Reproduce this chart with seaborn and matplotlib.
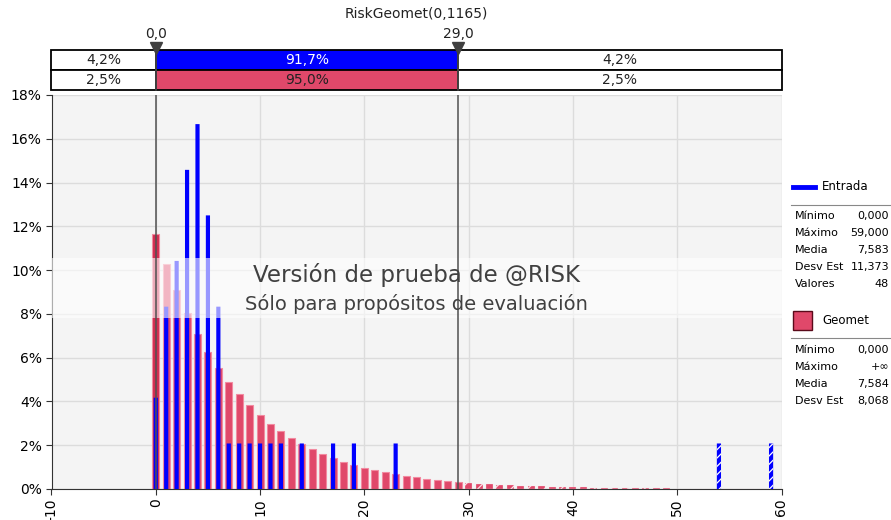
import matplotlib
matplotlib.use("Agg")
import matplotlib.pyplot as plt
from matplotlib.patches import Rectangle
from matplotlib.lines import Line2D
import seaborn as sns

# -----------------------------
# data
# -----------------------------
# Entrada: 48 samples, % of samples at each integer value
entrada_x = [0, 1, 2, 3, 4, 5, 6, 7, 8, 9, 10, 11, 12, 14, 17, 19, 23, 54, 59]
entrada_pct = [4.17, 8.33, 10.42, 14.58, 16.67, 12.50, 8.33, 2.08, 2.08, 2.08,
               2.08, 2.08, 2.08, 2.08, 2.08, 2.08, 2.08, 2.08, 2.08]

# Geomet: theoretical probabilities (%) for k = 0..60
geomet_x = list(range(0, 61))
geomet_pct = [11.65, 10.29, 9.09, 8.03, 7.10, 6.27, 5.54, 4.90, 4.33, 3.82,
              3.38, 2.98, 2.64, 2.33, 2.06, 1.82, 1.61, 1.42, 1.25, 1.11,
              0.98, 0.86, 0.76, 0.68, 0.60, 0.53, 0.47, 0.41, 0.36, 0.32,
              0.28, 0.25, 0.22, 0.20, 0.17, 0.15, 0.14, 0.12, 0.11, 0.09,
              0.08, 0.07, 0.06, 0.06, 0.05, 0.04, 0.04, 0.03, 0.03, 0.03,
              0.02, 0.02, 0.02, 0.02, 0.01, 0.01, 0.01, 0.01, 0.01, 0.01,
              0.01]

marker_vals = [0.0, 29.0]
marker_labels = ["0,0", "29,0"]
entrada_band = ["4,2%", "91,7%", "4,2%"]
geomet_band = ["2,5%", "95,0%", "2,5%"]

entrada_stats = [("Mínimo", "0,000"), ("Máximo", "59,000"), ("Media", "7,583"),
                 ("Desv Est", "11,373"), ("Valores", "48")]
geomet_stats = [("Mínimo", "0,000"), ("Máximo", "+∞"), ("Media", "7,584"),
                ("Desv Est", "8,068")]

title = "RiskGeomet(0,1165)"

BLUE = "#0000ff"
RED = "#e0486a"
W, H = 891, 520

plt.rcParams["font.family"] = ["DejaVu Sans"]
plt.rcParams["hatch.linewidth"] = 0.9


def fx(px):
    return px / W


def fy(py):
    return 1 - py / H


fig = plt.figure(figsize=(W / 100, H / 100), dpi=100)

# -----------------------------
# main histogram axes
# -----------------------------
ax = fig.add_axes([fx(51.5), fy(489), fx(781.5) - fx(51.5), fy(95) - fy(489)])
ax.set_facecolor("#f4f4f4")

sns.barplot(x=geomet_x, y=geomet_pct, native_scale=True, width=0.66,
            color=RED, edgecolor="#f28aa0", linewidth=0.8, saturation=1,
            errorbar=None, ax=ax, zorder=2)
for bar, k in zip(ax.containers[-1], geomet_x):
    if k > marker_vals[1]:
        bar.set_hatch("//")
        bar.set_edgecolor("#fbe3e8")
        bar.set_linewidth(0.2)
    elif k == 0:
        bar.set_facecolor("#d22c50")

sns.barplot(x=entrada_x, y=entrada_pct, native_scale=True, width=0.4,
            color=BLUE, linewidth=0, saturation=1,
            errorbar=None, ax=ax, zorder=3)
for bar, k in zip(ax.containers[-1], entrada_x):
    bar.set_snap(False)
    if k > marker_vals[1]:
        bar.set_hatch("////")
        bar.set_edgecolor("white")
        bar.set_linewidth(0)

for v in marker_vals:
    ax.axvline(v, color="#505050", lw=1.1, zorder=6)

ax.set_xlim(-10, 60)
ax.set_ylim(0, 18)
ax.set_xticks(range(-10, 61, 10))
ax.set_xticklabels([str(t) for t in range(-10, 61, 10)], rotation=90, fontsize=10)
ax.set_yticks(range(0, 19, 2))
ax.set_yticklabels([f"{t}%" for t in range(0, 19, 2)], fontsize=10)
ax.set_xlabel("")
ax.set_ylabel("")
ax.grid(True, color="#dcdcdc", lw=1)
ax.set_axisbelow(True)
ax.tick_params(length=4, color="#333333", pad=3)
for s in ["top", "right"]:
    ax.spines[s].set_visible(False)
for s in ["left", "bottom"]:
    ax.spines[s].set_color("#333333")

# trial-version watermark
ax.axhspan(7.8, 10.55, color="white", alpha=0.6, lw=0, zorder=5)
ax.text(25, 9.78, "Versión de prueba de @RISK", ha="center", va="center",
        fontsize=16.5, color="#404040", zorder=7)
ax.text(25, 8.45, "Sólo para propósitos de evaluación", ha="center", va="center",
        fontsize=14, color="#404040", zorder=7)

# -----------------------------
# delimiter bands on top
# -----------------------------
bx = fig.add_axes([fx(51.5), fy(90), fx(781.5) - fx(51.5), fy(50) - fy(90)])
bx.set_xlim(-10, 60)
bx.set_ylim(0, 2)
bx.axis("off")

edges = [-10, marker_vals[0], marker_vals[1], 60]
for row, labels, fill, tcol in [(1, entrada_band, BLUE, "white"),
                                (0, geomet_band, RED, "#222222")]:
    for i in range(3):
        face = fill if i == 1 else "white"
        bx.add_patch(Rectangle((edges[i], row), edges[i + 1] - edges[i], 1,
                               facecolor=face, edgecolor="black", lw=1.3,
                               clip_on=False))
        bx.text((edges[i] + edges[i + 1]) / 2, row + 0.5, labels[i],
                ha="center", va="center", fontsize=10,
                color=tcol if i == 1 else "#222222")

for v, lab in zip(marker_vals, marker_labels):
    bx.plot([v, v], [0, 2], color="#505050", lw=1.1, clip_on=False)
    bx.plot(v, 2.12, marker="v", color="#404040", markersize=9, clip_on=False)
    bx.text(v, 2.8, lab, ha="center", va="center", fontsize=10, color="#222222")

fig.text(fx(416), fy(14), title, ha="center", va="center", fontsize=10,
         color="#222222")

# -----------------------------
# legend / statistics panel
# -----------------------------
fig.add_artist(Line2D([fx(793), fx(815)], [fy(187), fy(187)], color=BLUE, lw=3.5))
fig.text(fx(822), fy(187), "Entrada", ha="left", va="center", fontsize=8.5)
fig.add_artist(Line2D([fx(791), fx(891)], [fy(205), fy(205)], color="#888888", lw=0.8))
for i, (lab, val) in enumerate(entrada_stats):
    y = 216 + i * 17
    fig.text(fx(795), fy(y), lab, ha="left", va="center", fontsize=8)
    fig.text(fx(889), fy(y), val, ha="right", va="center", fontsize=8)

fig.add_artist(Rectangle((fx(793), fy(330)), fx(812) - fx(793), fy(311) - fy(330),
                         facecolor=RED, edgecolor="#5a0a1a", lw=1,
                         transform=fig.transFigure))
fig.text(fx(822), fy(321), "Geomet", ha="left", va="center", fontsize=8.5)
fig.add_artist(Line2D([fx(791), fx(891)], [fy(338), fy(338)], color="#888888", lw=0.8))
for i, (lab, val) in enumerate(geomet_stats):
    y = 350 + i * 17
    fig.text(fx(795), fy(y), lab, ha="left", va="center", fontsize=8)
    fig.text(fx(889), fy(y), val, ha="right", va="center", fontsize=8)

fig.savefig("out.png", dpi=100)
